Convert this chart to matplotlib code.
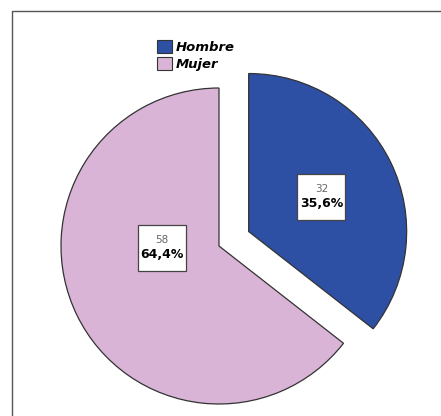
import numpy as np
import matplotlib.pyplot as plt
from matplotlib.patches import Rectangle

labels = ["Hombre", "Mujer"]
counts = [32, 58]
pcts = ["35,6%", "64,4%"]
colors = ["#2d50a5", "#d9b4d6"]
# label spots, in radius units, relative to each slice's own apex
label_off = [(0.46, 0.22), (-0.36, -0.01)]

W, H = 441, 416
cx, cy, r = 219, 170, 158
expl = 33  # pie's explode is in data units here

fig = plt.figure(figsize=(W / 100, H / 100), dpi=100)
ax = fig.add_axes([0, 0, 1, 1])

wedges, _ = ax.pie(counts, colors=colors, startangle=90, counterclock=False,
                   explode=[expl, 0], center=(cx, cy), radius=r,
                   wedgeprops=dict(edgecolor="#333333", linewidth=0.9))

# the exploded slice's apex moves along its middle angle
mid = np.deg2rad(90 - 360 * counts[0] / sum(counts) / 2)
apex = [(cx + expl * np.cos(mid), cy + expl * np.sin(mid)), (cx, cy)]

for i in range(len(counts)):
    x = apex[i][0] + label_off[i][0] * r
    y = apex[i][1] + label_off[i][1] * r
    ax.add_patch(Rectangle((x - 24, y - 23), 48, 46, facecolor="white",
                           edgecolor="#444444", linewidth=0.9, zorder=3))
    ax.text(x, y + 8, str(counts[i]), ha="center", va="center", fontsize=7.5,
            color="#666666", zorder=4)
    ax.text(x, y - 7, pcts[i], ha="center", va="center", fontsize=9,
            fontweight="bold", color="black", zorder=4)

leg = ax.legend(wedges, labels, loc="upper left", bbox_to_anchor=(148 / W, 1 - 31 / H),
                bbox_transform=fig.transFigure, frameon=False, handlelength=1.15,
                handleheight=1.15, handletextpad=0.25, labelspacing=0.2, borderpad=0.2,
                prop=dict(size=9.5, weight="bold", style="italic"))
for h in leg.legend_handles:
    h.set_edgecolor("#333333")
    h.set_linewidth(0.8)

ax.set_xlim(0, W)
ax.set_ylim(0, H)
ax.axis("off")

# frame around the chart (left and top edges show)
ax.plot([12, 12, W], [0, H - 11, H - 11], color="#555555", linewidth=1.0)

fig.savefig("out.png", dpi=100)
